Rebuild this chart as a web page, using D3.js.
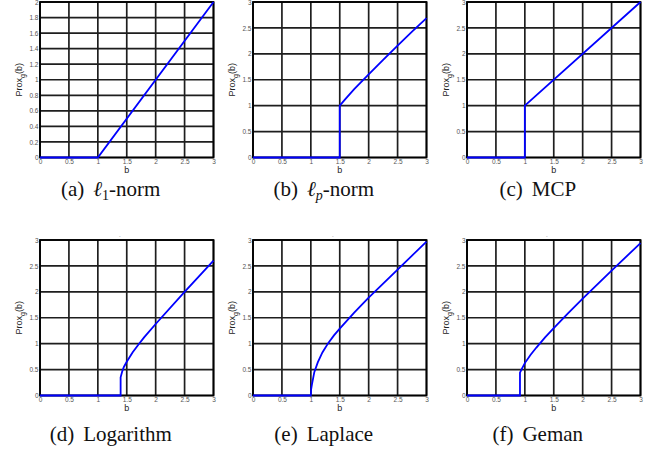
<!DOCTYPE html>
<html><head><meta charset="utf-8">
<script src="https://cdn.jsdelivr.net/npm/d3@7"></script>
<style>body{margin:0;background:#fff}svg{display:block}</style>
</head><body>
<script>
// Data (b, Prox_g(b))
const l1Data = [[0,0],[1,0],[3,2]];
const lpData = [[0,0],[1.5,0],[1.5,1.0],[1.6,1.13],[1.75,1.32],[2,1.605],[2.25,1.885],[2.5,2.16],[2.75,2.43],[3,2.69]];
const mcpData = [[0,0],[1,0],[1,1],[3,3]];
const logData = [[0,0],[1.394,0],[1.394,0.35],[1.42,0.46],[1.45,0.55],[1.5,0.65],[1.6,0.83],[1.7,0.98],[1.8,1.12],[2,1.38],[2.5,2.0],[3,2.6]];
const laplaceData = [[0,0],[1,0],[1.005,0.12],[1.02,0.22],[1.06,0.45],[1.12,0.64],[1.2,0.83],[1.3,1.01],[1.4,1.16],[1.5,1.29],[1.75,1.6],[2,1.89],[2.25,2.16],[2.5,2.43],[2.75,2.7],[3,2.97]];
const gemanData = [[0,0],[0.916,0],[0.916,0.44],[0.95,0.52],[1,0.625],[1.1,0.785],[1.2,0.925],[1.35,1.12],[1.5,1.3],[1.75,1.59],[2,1.87],[2.5,2.41],[3,2.94]];

const captions = ["(a)","(b)","(c)","(d)","(e)","(f)"];
const captionNames = ["-norm","-norm","MCP","Logarithm","Laplace","Geman"];
const xTicks = [0,0.5,1,1.5,2,2.5,3];
const yTicksA = [0,0.2,0.4,0.6,0.8,1,1.2,1.4,1.6,1.8,2];
const yTicks = [0,0.5,1,1.5,2,2.5,3];

const panels = [
  {data:l1Data, ymax:2, yt:yTicksA, sub:"1"},
  {data:lpData, ymax:3, yt:yTicks, sub:"p"},
  {data:mcpData, ymax:3, yt:yTicks},
  {data:logData, ymax:3, yt:yTicks, title:"-"},
  {data:laplaceData, ymax:3, yt:yTicks, title:"-"},
  {data:gemanData, ymax:3, yt:yTicks, title:"-"}
];

const W=660,H=454;
const svg = d3.select("body").append("svg").attr("width",W).attr("height",H);
const lefts=[40,253,467], tops=[2,240], pw=173.5, ph=155.5;

panels.forEach((p,i)=>{
  const col=i%3,row=Math.floor(i/3);
  const x0=lefts[col], y0=tops[row];
  const g=svg.append("g").attr("transform",`translate(${x0},${y0})`);
  const x=d3.scaleLinear().domain([0,3]).range([0,pw]);
  const y=d3.scaleLinear().domain([0,p.ymax]).range([ph,0]);
  // grid
  g.selectAll(".gx").data(xTicks).join("line")
    .attr("x1",d=>x(d)).attr("x2",d=>x(d)).attr("y1",0).attr("y2",ph)
    .attr("stroke","#1e1e1e").attr("stroke-width",1.7);
  g.selectAll(".gy").data(p.yt).join("line")
    .attr("y1",d=>y(d)).attr("y2",d=>y(d)).attr("x1",0).attr("x2",pw)
    .attr("stroke","#1e1e1e").attr("stroke-width",1.7);
  g.append("rect").attr("width",pw).attr("height",ph).attr("fill","none")
    .attr("stroke","#000").attr("stroke-width",1.8);
  // axes tick labels
  const xa=d3.axisBottom(x).tickValues(xTicks).tickSize(0).tickPadding(2).tickFormat(d3.format("~g"));
  const ya=d3.axisLeft(y).tickValues(p.yt).tickSize(0).tickPadding(1.5).tickFormat(d3.format("~g"));
  const gx=g.append("g").attr("transform",`translate(0,${ph})`).call(xa);
  const gy=g.append("g").call(ya);
  [gx,gy].forEach(a=>{a.select(".domain").remove();
    a.selectAll("text").attr("font-family","Liberation Sans, Arial, sans-serif").attr("font-size",6.5).attr("fill","#555");});
  // line
  g.append("path").datum(p.data)
    .attr("d",d3.line().x(d=>x(d[0])).y(d=>y(d[1])))
    .attr("fill","none").attr("stroke","#0000ff").attr("stroke-width",1.8);
  // tiny title mark
  if(p.title) g.append("text").attr("x",pw/2-7).attr("y",-2).attr("text-anchor","middle")
    .attr("font-family","Liberation Sans, Arial, sans-serif").attr("font-size",5).attr("fill","#999").text(p.title);
  // axis titles
  g.append("text").attr("x",pw/2).attr("y",ph+15.5).attr("text-anchor","middle")
    .attr("font-family","Liberation Sans, Arial, sans-serif").attr("font-size",9).attr("fill","#222").text("b");
  const yl=g.append("text").attr("transform",`translate(-18,${ph/2}) rotate(-90)`).attr("text-anchor","middle")
    .attr("font-family","Liberation Sans, Arial, sans-serif").attr("font-size",9).attr("fill","#222");
  yl.append("tspan").text("Prox");
  yl.append("tspan").attr("font-size",7).attr("dy",2.5).text("g");
  yl.append("tspan").attr("dy",-2.5).text("(b)");
  // caption
  const cy = row===0?196:441;
  const ct=svg.append("text").attr("x",x0+pw/2-16).attr("y",cy).attr("text-anchor","middle")
    .attr("font-family","Liberation Serif, Times New Roman, serif").attr("font-size",21).attr("fill","#111");
  ct.append("tspan").text(captions[i]);
  if(p.sub){
    ct.append("tspan").attr("dx",9).attr("font-style","italic").text("\u2113");
    ct.append("tspan").attr("font-size",14).attr("dy",4).attr("font-style",p.sub==="p"?"italic":"normal").text(p.sub);
    ct.append("tspan").attr("dy",-4).text(captionNames[i]);
  } else ct.append("tspan").attr("dx",9).text(captionNames[i]);
});
</script>
</body></html>
